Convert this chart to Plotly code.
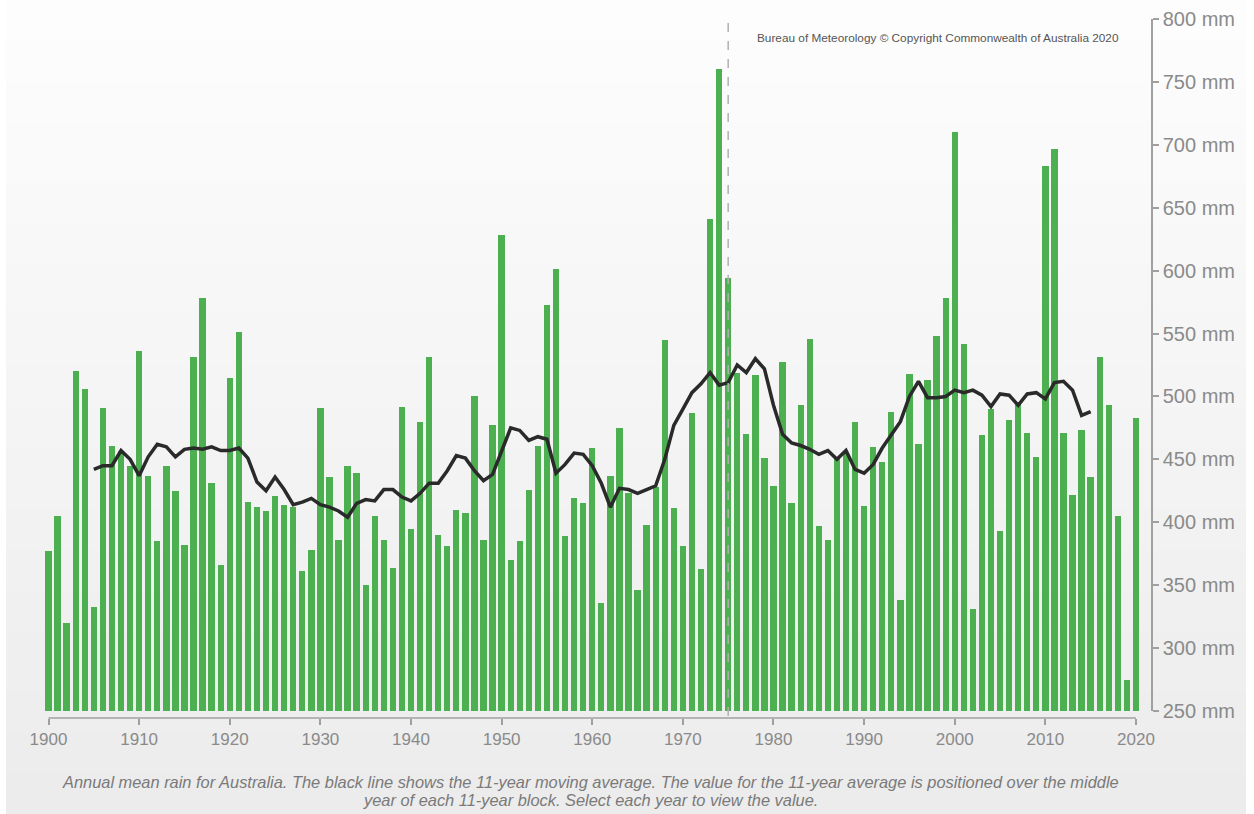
import plotly.graph_objects as go

# annual mean rainfall for Australia (mm), 1900-2020
years = list(range(1900, 2021))
rain = [
    377, 405, 320, 520, 506, 333, 491, 461, 457, 445,   # 1900s
    536, 437, 385, 445, 425, 382, 531, 578, 431, 366,   # 1910s
    515, 551, 416, 412, 409, 421, 414, 412, 361, 378,   # 1920s
    491, 436, 386, 445, 439, 350, 405, 386, 364, 492,   # 1930s
    395, 480, 531, 390, 381, 410, 407, 500, 386, 477,   # 1940s
    628, 370, 385, 426, 461, 573, 601, 389, 419, 415,   # 1950s
    459, 336, 437, 475, 423, 346, 398, 428, 545, 411,   # 1960s
    381, 487, 363, 641, 760, 594, 519, 470, 517, 451,   # 1970s
    429, 527, 415, 493, 546, 397, 386, 450, 455, 480,   # 1980s
    413, 460, 448, 488, 338, 518, 462, 513, 548, 578,   # 1990s
    710, 542, 331, 469, 490, 393, 481, 495, 471, 452,   # 2000s
    683, 697, 471, 422, 473, 436, 531, 493, 405, 275,   # 2010s
    483,                                                # 2020
]

# 11-year moving average, plotted at the middle year of each block
avg_years = list(range(1905, 2016))
avg_rain = [
    442, 445, 445, 457, 450, 437, 452, 462, 460, 452,   # 1905-1914
    458, 459, 458, 460, 457, 457, 459, 451, 432, 425,   # 1915-1924
    436, 426, 414, 416, 419, 414, 412, 409, 404, 415,   # 1925-1934
    418, 417, 426, 426, 420, 417, 423, 431, 431, 441,   # 1935-1944
    453, 451, 441, 433, 438, 457, 475, 473, 465, 468,   # 1945-1954
    466, 439, 446, 455, 454, 445, 431, 412, 427, 426,   # 1955-1964
    423, 426, 429, 450, 477, 490, 503, 510, 519, 509,   # 1965-1974
    511, 525, 519, 530, 522, 493, 470, 463, 461, 458,   # 1975-1984
    454, 457, 450, 457, 442, 439, 446, 459, 470, 480,   # 1985-1994
    500, 512, 499, 499, 500, 505, 503, 505, 501, 492,   # 1995-2004
    502, 501, 493, 502, 503, 498, 511, 512, 505, 485,   # 2005-2014
    488,                                                # 2015
]

y_ticks = list(range(250, 801, 50))
y_labels = ["%d mm" % v for v in y_ticks]
x_ticks = list(range(1900, 2021, 10))

caption_1 = ("Annual mean rain for Australia. The black line shows the 11-year moving average. "
             "The value for the 11-year average is positioned over the middle")
caption_2 = "year of each 11-year block. Select each year to view the value."
credit = "Bureau of Meteorology \u00a9 Copyright Commonwealth of Australia 2020"

W, H = 1254, 814
ML, MR, MT, MB = 44, 102, 19, 96
PW = W - ML - MR
PH = H - MT - MB


def px_x(px):
    return (px - ML) / PW


def px_y(py):
    return (H - MB - py) / PH


fig = go.Figure()

fig.add_trace(go.Bar(
    x=years, y=rain, width=0.7,
    marker=dict(color="#4caf50", line=dict(width=0)),
    name="Annual rainfall",
))
fig.add_trace(go.Scatter(
    x=avg_years, y=avg_rain, mode="lines",
    line=dict(color="#2a2a2a", width=3.5),
    name="11-year average",
))

# soft vertical gradient for the background panel
shapes = []
n_bands = 40
top_c, bot_c = (253, 253, 253), (236, 236, 236)
for i in range(n_bands):
    t = i / (n_bands - 1)
    c = tuple(round(top_c[k] + (bot_c[k] - top_c[k]) * t) for k in range(3))
    y0 = i * H / n_bands
    y1 = (i + 1) * H / n_bands + 1
    shapes.append(dict(
        type="rect", xref="paper", yref="paper", layer="below",
        x0=px_x(6), x1=px_x(1246), y0=px_y(y1), y1=px_y(y0),
        fillcolor="rgb(%d,%d,%d)" % c, line=dict(width=0),
    ))

# x axis base line
shapes.append(dict(
    type="line", xref="x", yref="paper", x0=1900, x1=2020, y0=0, y1=0,
    line=dict(color="#a0a0a0", width=1.5),
))
# dashed marker at 1975
shapes.append(dict(
    type="line", xref="x", yref="paper", x0=1975, x1=1975, y0=px_y(716), y1=px_y(18),
    line=dict(color="#b0b0b0", width=1.5, dash="dash"),
))

fig.update_layout(
    width=W, height=H,
    margin=dict(l=ML, r=MR, t=MT, b=MB, autoexpand=False),
    paper_bgcolor="white",
    plot_bgcolor="rgba(0,0,0,0)",
    showlegend=False,
    bargap=0,
    shapes=shapes,
    font=dict(family="Liberation Sans, Arial, sans-serif", color="#8a8a8a"),
    xaxis=dict(
        range=[1899.5, 2020.5], domain=[0, px_x(1140.5)],
        anchor="free", position=0, automargin=False,
        tickvals=x_ticks, ticks="outside", ticklen=6, tickwidth=1.5, tickcolor="#a0a0a0",
        showline=False, showgrid=False, zeroline=False,
        tickfont=dict(size=17, color="#8a8a8a"),
    ),
    yaxis=dict(
        range=[250, 800], domain=[px_y(711), 1],
        side="right", anchor="free", position=1, automargin=False,
        tickvals=y_ticks, ticktext=y_labels,
        ticks="outside", ticklen=6, tickwidth=1.5, tickcolor="#a0a0a0",
        showline=True, linecolor="#a0a0a0", linewidth=1.5,
        showgrid=False, zeroline=False,
        tickfont=dict(size=20, color="#8a8a8a"),
    ),
    annotations=[
        dict(text=credit, xref="paper", yref="paper", x=px_x(755), y=px_y(38),
             xanchor="left", yanchor="middle", showarrow=False,
             font=dict(size=11.8, color="#555555")),
        dict(text="<i>%s</i>" % caption_1, xref="paper", yref="paper",
             x=px_x(590), y=px_y(782), xanchor="center", yanchor="middle",
             showarrow=False, font=dict(size=16.4, color="#7a7a7a")),
        dict(text="<i>%s</i>" % caption_2, xref="paper", yref="paper",
             x=px_x(590), y=px_y(800), xanchor="center", yanchor="middle",
             showarrow=False, font=dict(size=16.4, color="#7a7a7a")),
    ],
)

# the page body has a default 8px margin; drop it so the figure fills the window
fig.write_html("out.html", config={"displayModeBar": False},
               post_script="document.body.style.margin='0px';")
